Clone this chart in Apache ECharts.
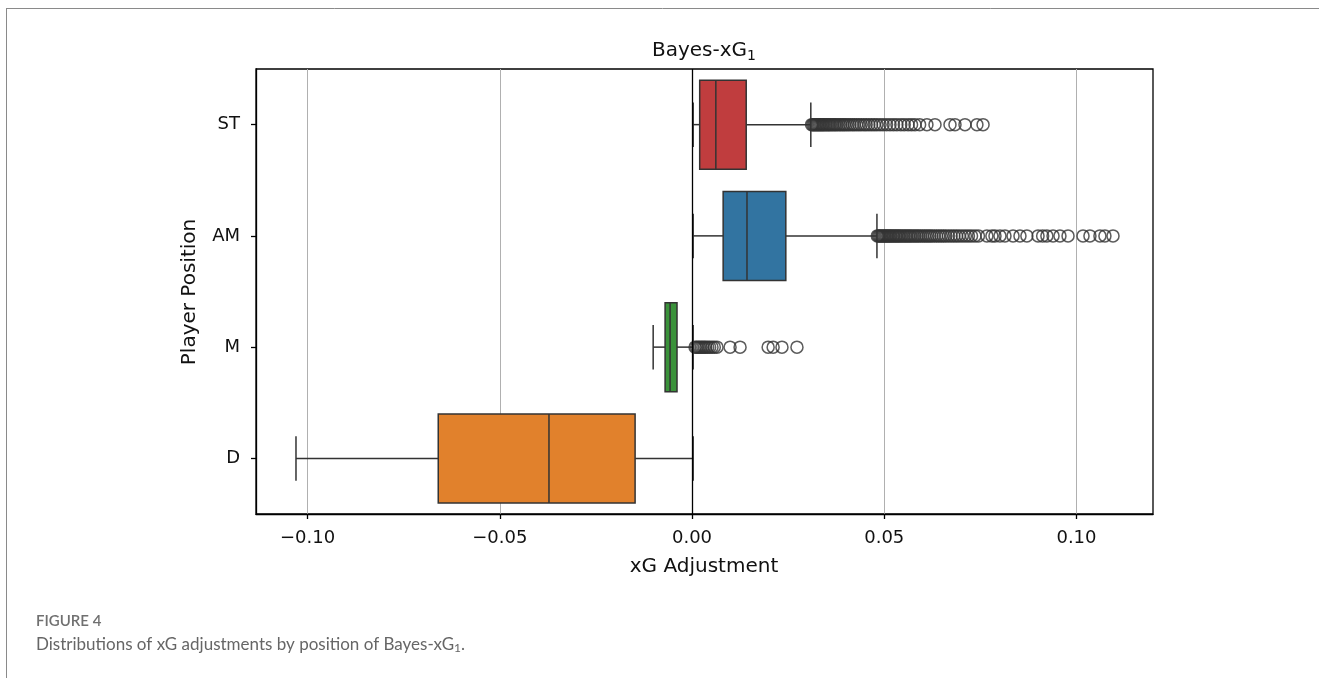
<!DOCTYPE html>
<html>
<head>
<meta charset="utf-8">
<script src="https://cdn.jsdelivr.net/npm/echarts@6/dist/echarts.min.js"></script>
<style>
html,body{margin:0;padding:0;background:#fff;}
#chart{width:1319px;height:678px;}
</style>
</head>
<body>
<div id="chart"></div>
<script>
// ---- data ----
const categories = ['ST', 'AM', 'M', 'D'];
const boxLow    = [0.0003, 0.0003, -0.0101, -0.1030];
const boxQ1     = [0.0020, 0.0081, -0.0070, -0.0660];
const boxMedian = [0.0062, 0.0143, -0.0057, -0.0372];
const boxQ3     = [0.0141, 0.0244, -0.0039, -0.0148];
const boxHigh   = [0.0309, 0.0481, 0.0003, 0.0003];
const boxColors = ['#c03d3e', '#3274a1', '#3a923a', '#e1812c'];

const stOutliers = [0.0311,0.0314,0.0317,0.0320,0.0323,0.0326,0.0329,0.0332,0.0335,0.0338,0.0341,0.0344,0.0348,0.0351,0.0355,0.0358,0.0362,0.0366,0.0370,0.0374,0.0378,0.0383,0.0387,0.0392,0.0396,0.0401,0.0406,0.0411,0.0417,0.0422,0.0428,0.0434,0.0440,0.0447,0.0453,0.0460,0.0467,0.0474,0.0481,0.0489,0.0497,0.0506,0.0515,0.0524,0.0533,0.0543,0.0552,0.0562,0.0571,0.0580,0.0592,0.0611,0.0632,0.0671,0.0684,0.0710,0.0741,0.0757];
const amOutliers = [0.0482,0.0485,0.0488,0.0491,0.0494,0.0497,0.0500,0.0503,0.0506,0.0509,0.0512,0.0515,0.0518,0.0522,0.0525,0.0529,0.0532,0.0536,0.0539,0.0543,0.0547,0.0551,0.0555,0.0559,0.0563,0.0567,0.0571,0.0576,0.0580,0.0585,0.0589,0.0594,0.0599,0.0604,0.0609,0.0614,0.0619,0.0624,0.0630,0.0636,0.0642,0.0648,0.0654,0.0660,0.0667,0.0674,0.0681,0.0688,0.0695,0.0703,0.0711,0.0719,0.0727,0.0736,0.0745,0.0767,0.0780,0.0788,0.0801,0.0814,0.0835,0.0853,0.0871,0.0900,0.0912,0.0923,0.0939,0.0957,0.0978,0.1017,0.1035,0.1061,0.1074,0.1095];
const mOutliers  = [0.0008,0.0012,0.0016,0.0020,0.0024,0.0028,0.0032,0.0036,0.0041,0.0046,0.0052,0.0058,0.0065,0.0099,0.0125,0.0198,0.0211,0.0234,0.0273];
const dOutliers  = [];

const xTicks = [-0.10, -0.05, 0.00, 0.05, 0.10];
const xMin = -0.1134, xMax = 0.1199;
const zeroLine = 0;

const titleText = 'Bayes-xG';
const xName = 'xG Adjustment';
const yName = 'Player Position';
const figLabel = 'FIGURE 4';
const captionText = 'Distributions of xG adjustments by position of Bayes-xG';

// ---- build ----
const boxData = categories.map((c, i) => [c, boxLow[i], boxQ1[i], boxMedian[i], boxQ3[i], boxHigh[i]]);
const outlierSets = [stOutliers, amOutliers, mOutliers, dOutliers];
const outlierData = [];
outlierSets.forEach((arr, i) => arr.forEach(v => outlierData.push([v, categories[i]])));

const EDGE = '#333333';
const LW = 1.5;
const FONT = 'DejaVu Sans';

function renderBox(params, api) {
  const yi = api.value(0);
  const band = api.size([0, 1])[1];
  const hb = band * 0.4, hc = band * 0.2;
  const xs = [1, 2, 3, 4, 5].map(k => api.coord([api.value(k), yi])[0]);
  const y = api.coord([api.value(3), yi])[1];
  const ls = { stroke: EDGE, lineWidth: LW };
  return {
    type: 'group',
    children: [
      { type: 'line', shape: { x1: xs[0], y1: y, x2: xs[1], y2: y }, style: ls },
      { type: 'line', shape: { x1: xs[3], y1: y, x2: xs[4], y2: y }, style: ls },
      { type: 'line', shape: { x1: xs[0], y1: y - hc, x2: xs[0], y2: y + hc }, style: ls },
      { type: 'line', shape: { x1: xs[4], y1: y - hc, x2: xs[4], y2: y + hc }, style: ls },
      { type: 'rect', shape: { x: xs[1], y: y - hb, width: xs[3] - xs[1], height: 2 * hb },
        style: { fill: boxColors[params.dataIndex], stroke: EDGE, lineWidth: LW } },
      { type: 'line', shape: { x1: xs[2], y1: y - hb, x2: xs[2], y2: y + hb }, style: ls }
    ]
  };
}

const chart = echarts.init(document.getElementById('chart'), null, { renderer: 'canvas' });
chart.setOption({
  backgroundColor: '#fff',
  animation: false,
  grid: { left: 256, right: 166, top: 69, bottom: 164, show: true, borderColor: '#000', borderWidth: 1.3, backgroundColor: 'transparent' },
  xAxis: {
    type: 'value', min: xMin, max: xMax,
    axisLine: { show: true, onZero: false, lineStyle: { color: '#000', width: 1.3 } },
    axisTick: { show: true, customValues: xTicks, length: 5, lineStyle: { color: '#000', width: 1.3 } },
    axisLabel: { customValues: xTicks, fontFamily: FONT, fontSize: 18, color: '#111', margin: 15,
      formatter: v => v.toFixed(2).replace('-', '\u2212') },
    splitLine: { show: true, lineStyle: { color: '#b0b0b0', width: 1 } }
  },
  yAxis: {
    type: 'category', data: categories, inverse: true,
    axisLine: { show: true, onZero: false, lineStyle: { color: '#000', width: 1.3 } },
    axisTick: { show: true, alignWithLabel: true, length: 5, lineStyle: { color: '#000', width: 1.3 } },
    axisLabel: { fontFamily: FONT, fontSize: 18, color: '#111', margin: 16 },
    splitLine: { show: false }
  },
  series: [
    {
      type: 'custom', renderItem: renderBox, data: boxData,
      encode: { y: 0, x: [1, 2, 3, 4, 5] }, z: 3,
      markLine: {
        silent: true, symbol: ['none', 'none'], label: { show: false },
        lineStyle: { color: '#000', width: 1.3, type: 'solid' },
        data: [{ xAxis: zeroLine }]
      }
    },
    {
      type: 'scatter', data: outlierData, symbol: 'circle', symbolSize: 12, z: 4,
      itemStyle: { color: 'transparent', borderColor: EDGE, borderWidth: 1.5 }
    }
  ],
  graphic: [
    { type: 'line', shape: { x1: 6, y1: 8.5, x2: 1319, y2: 8.5 }, style: { stroke: '#8a8a8a', lineWidth: 1 }, silent: true },
    { type: 'line', shape: { x1: 6.5, y1: 8, x2: 6.5, y2: 678 }, style: { stroke: '#8a8a8a', lineWidth: 1 }, silent: true },
    { type: 'text', x: 704, y: 51, silent: true,
      style: { text: titleText + '{s|1}', align: 'center', verticalAlign: 'middle', font: '20px "DejaVu Sans"', fill: '#111',
        rich: { s: { fontSize: 14, fontFamily: FONT, fill: '#111', padding: [10, 0, 0, 0] } } } },
    { type: 'text', x: 704, y: 567, silent: true,
      style: { text: xName, align: 'center', verticalAlign: 'middle', font: '20px "DejaVu Sans"', fill: '#111' } },
    { type: 'text', x: 190, y: 292, rotation: Math.PI / 2, silent: true,
      style: { text: yName, align: 'center', verticalAlign: 'middle', font: '20px "DejaVu Sans"', fill: '#111' } },
    { type: 'text', x: 36, y: 621, silent: true,
      style: { text: figLabel, align: 'left', verticalAlign: 'middle', font: '600 15px Lato', fill: '#707070' } },
    { type: 'text', x: 36, y: 645, silent: true,
      style: { text: captionText + '{s|1}.', align: 'left', verticalAlign: 'middle', font: '17px Lato', fill: '#666',
        rich: { s: { fontSize: 12, fontFamily: 'Lato', fill: '#666', padding: [7, 0, 0, 0] } } } }
  ]
});
</script>
</body>
</html>
